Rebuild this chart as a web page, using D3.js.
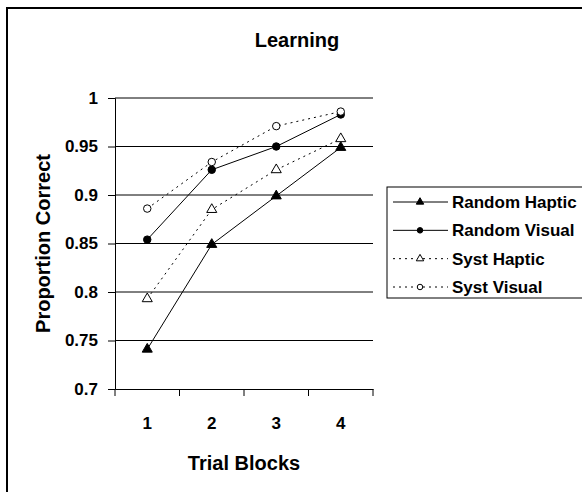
<!DOCTYPE html>
<html>
<head>
<meta charset="utf-8">
<script src="https://cdn.jsdelivr.net/npm/d3@7"></script>
<style>
  html, body { margin: 0; padding: 0; background: #fff; }
  svg { display: block; }
  text { font-family: "Liberation Sans", Arial, sans-serif; font-weight: bold; fill: #000; }
</style>
</head>
<body>
<svg id="chart" width="582" height="492"></svg>
<script>
const categories = ["1", "2", "3", "4"];
const yTicks = [0.7, 0.75, 0.8, 0.85, 0.9, 0.95, 1];
const yTickLabels = ["0.7", "0.75", "0.8", "0.85", "0.9", "0.95", "1"];
const seriesNames = ["Random Haptic", "Random Visual", "Syst Haptic", "Syst Visual"];
const randomHaptic = [0.741, 0.849, 0.899, 0.949];
const randomVisual = [0.854, 0.926, 0.950, 0.983];
const systHaptic = [0.793, 0.885, 0.926, 0.958];
const systVisual = [0.886, 0.934, 0.971, 0.986];

const series = [
  { name: seriesNames[0], values: randomHaptic, symbol: "triangle", filled: true, dashed: false },
  { name: seriesNames[1], values: randomVisual, symbol: "circle", filled: true, dashed: false },
  { name: seriesNames[2], values: systHaptic, symbol: "triangle", filled: false, dashed: true },
  { name: seriesNames[3], values: systVisual, symbol: "circle", filled: false, dashed: true }
];

const svg = d3.select("#chart");

// outer frame
svg.append("rect").attr("x", 7).attr("y", 8).attr("width", 600).attr("height", 500)
  .attr("fill", "none").attr("stroke", "#000").attr("stroke-width", 2);

const plot = { left: 115, right: 373, top: 98, bottom: 389 };
const x = d3.scaleBand().domain(categories).range([plot.left, plot.right]).padding(0);
const y = d3.scaleLinear().domain([0.7, 1]).range([plot.bottom, plot.top]);

// gridlines
svg.append("g").selectAll("line").data(yTicks.filter(v => v > 0.7)).join("line")
  .attr("x1", plot.left).attr("x2", plot.right)
  .attr("y1", d => y(d)).attr("y2", d => y(d))
  .attr("stroke", "#000").attr("stroke-width", 1);

// y axis
const yAxis = d3.axisLeft(y).tickValues(yTicks).tickFormat((d, i) => yTickLabels[i]).tickSize(7).tickPadding(10);
const gy = svg.append("g").attr("transform", `translate(${plot.left},0)`).call(yAxis);
gy.select(".domain").attr("stroke", "#000");
gy.selectAll(".tick line").attr("stroke", "#000");
gy.selectAll(".tick text").style("font-size", "17px").style("font-family", "'Liberation Sans', Arial, sans-serif").style("font-weight", "bold").attr("fill", "#000");

// x axis
const xAxis = d3.axisBottom(x).tickSize(0).tickPadding(28);
const gx = svg.append("g").attr("transform", `translate(0,${plot.bottom})`).call(xAxis);
gx.select(".domain").attr("stroke", "#000");
gx.selectAll(".tick text").style("font-size", "17px").style("font-family", "'Liberation Sans', Arial, sans-serif").style("font-weight", "bold").attr("fill", "#000");
// boundary ticks between categories
const bounds = categories.map(c => x(c)).concat([x(categories[categories.length - 1]) + x.bandwidth()]);
gx.selectAll("line.bt").data(bounds).join("line").attr("class", "bt")
  .attr("x1", d => d).attr("x2", d => d).attr("y1", 0).attr("y2", 7)
  .attr("stroke", "#000");

// lines
const line = d3.line().x((d, i) => x(categories[i]) + x.bandwidth() / 2).y(d => y(d));
series.forEach(s => {
  svg.append("path").datum(s.values).attr("d", line)
    .attr("fill", "none").attr("stroke", "#000").attr("stroke-width", 1)
    .attr("stroke-dasharray", s.dashed ? "2,4" : null);
});

function markerPath(sym, size) {
  return d3.symbol().type(sym === "triangle" ? d3.symbolTriangle : d3.symbolCircle).size(size)();
}

series.forEach(s => {
  svg.append("g").selectAll("path").data(s.values).join("path")
    .attr("transform", (d, i) => `translate(${x(categories[i]) + x.bandwidth() / 2},${y(d)})`)
    .attr("d", markerPath(s.symbol, s.symbol === "triangle" ? 44 : 44))
    .attr("fill", s.filled ? "#000" : "#fff")
    .attr("stroke", "#000").attr("stroke-width", 1);
});

// titles
svg.append("text").attr("x", 297).attr("y", 47).attr("text-anchor", "middle")
  .style("font-size", "20px").text("Learning");
svg.append("text").attr("x", (plot.left + plot.right) / 2).attr("y", 470).attr("text-anchor", "middle")
  .style("font-size", "20px").text("Trial Blocks");
svg.append("text").attr("transform", `translate(50,${(plot.top + plot.bottom) / 2}) rotate(-90)`)
  .attr("text-anchor", "middle").style("font-size", "20px").text("Proportion Correct");

// legend
const lg = svg.append("g");
lg.append("rect").attr("x", 387).attr("y", 187).attr("width", 220).attr("height", 111)
  .attr("fill", "#fff").attr("stroke", "#000").attr("stroke-width", 1);
const rowY = d3.scalePoint().domain(seriesNames).range([202, 287]);
series.forEach(s => {
  const yy = rowY(s.name);
  lg.append("line").attr("x1", 393).attr("x2", 448).attr("y1", yy).attr("y2", yy)
    .attr("stroke", "#000").attr("stroke-width", 1)
    .attr("stroke-dasharray", s.dashed ? "2,4" : null);
  lg.append("path").attr("transform", `translate(420,${yy})`)
    .attr("d", markerPath(s.symbol, 24))
    .attr("fill", s.filled ? "#000" : "#fff").attr("stroke", "#000").attr("stroke-width", 1);
  lg.append("text").attr("x", 452).attr("y", yy + 6).style("font-size", "17px").text(s.name);
});
</script>
</body>
</html>
